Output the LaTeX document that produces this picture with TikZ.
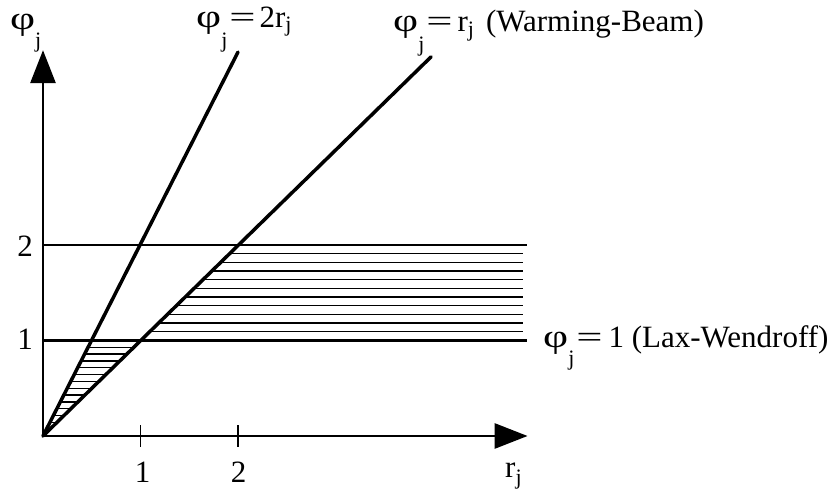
\documentclass[tikz,border=0pt]{standalone}
\usepackage{fontspec}
\setmainfont{Liberation Serif}
\usetikzlibrary{arrows.meta}
\newcommand{\ph}{\scalebox{1.4}[1.05]{φ}}
\newcommand{\eqs}{\scalebox{1.5}[1]{=}}
\newcommand{\sj}[1]{\lower#1\hbox{\fontsize{22}{22}\selectfont j}}
\begin{document}
\begin{tikzpicture}[x=1pt,y=1pt,
  lbl/.style={inner sep=0pt, font=\fontsize{31}{35}\selectfont},
  num/.style={inner sep=0pt, font=\fontsize{31}{35}\selectfont},
  axis/.style={line width=2.9pt, -{Triangle[length=33pt,width=25pt]}},
  ray/.style={line width=3.5pt, line cap=round},
  hline/.style={line width=2.7pt},
  hatch/.style={line width=1.3pt},
  tick/.style={line width=1.8pt}]
\useasboundingbox (0,0) rectangle (837,494);
\begin{scope}[shift={(43,58)}, x=97.5pt, y=95.5pt]
  \coordinate (O) at (0,0);
  \coordinate (xe) at (4.97,0);
  \coordinate (ye) at (0,4.04);
  \coordinate (h1a) at (0,1);
  \coordinate (h1b) at (4.96,1);
  \coordinate (h2a) at (0,2);
  \coordinate (h2b) at (4.96,2);
  \coordinate (r2) at (2.0,4.02);
  \coordinate (r1) at (3.98,3.97);
  \coordinate (t1a) at (1,-0.115);
  \coordinate (t1b) at (1,0.115);
  \coordinate (t2a) at (2,-0.115);
  \coordinate (t2b) at (2,0.115);
  % hatching
  \foreach \k in {1,...,13}
    \draw[hatch] ({\k/28},{\k/14}) -- ({\k/14},{\k/14});
  \foreach \k in {1,...,10}
    \draw[hatch] ({1+\k/11},{1+\k/11}) -- (4.92,{1+\k/11});
  % lines
  \draw[hline] (h1a) -- (h1b);
  \draw[hline] (h2a) -- (h2b);
  \draw[ray] (O) -- (r2);
  \draw[ray] (O) -- (r1);
  \draw[tick] (t1a) -- (t1b);
  \draw[tick] (t2a) -- (t2b);
  \draw[axis] (O) -- (xe);
  \draw[axis] (O) -- (ye);
\end{scope}
% labels
\node[lbl, anchor=base west] (ly) at (10,464) {\ph\sj{18pt}};
\node[lbl, anchor=base west] (l2r) at (196,466) {\ph\sj{20pt}\kern2pt\eqs\kern4pt2r\sj{4pt}};
\node[lbl, anchor=base west] (lr) at (393,462) {\ph\sj{20pt}\kern2pt\eqs\kern5pt r\sj{5pt}\kern12pt(Warming-Beam)};
\node[lbl, anchor=base west] (l1) at (543,146) {\ph\sj{18pt}\kern2pt\eqs\kern6pt 1 (Lax-Wendroff)};
\node[num, anchor=base] (y2) at (25,237) {2};
\node[num, anchor=base] (y1) at (25,144) {1};
\node[num, anchor=base] (x1) at (142.5,11) {1};
\node[num, anchor=base] (x2) at (238.5,11) {2};
\node[lbl, anchor=base west] (lx) at (505,16) {r\sj{7pt}};
\end{tikzpicture}
\end{document}
